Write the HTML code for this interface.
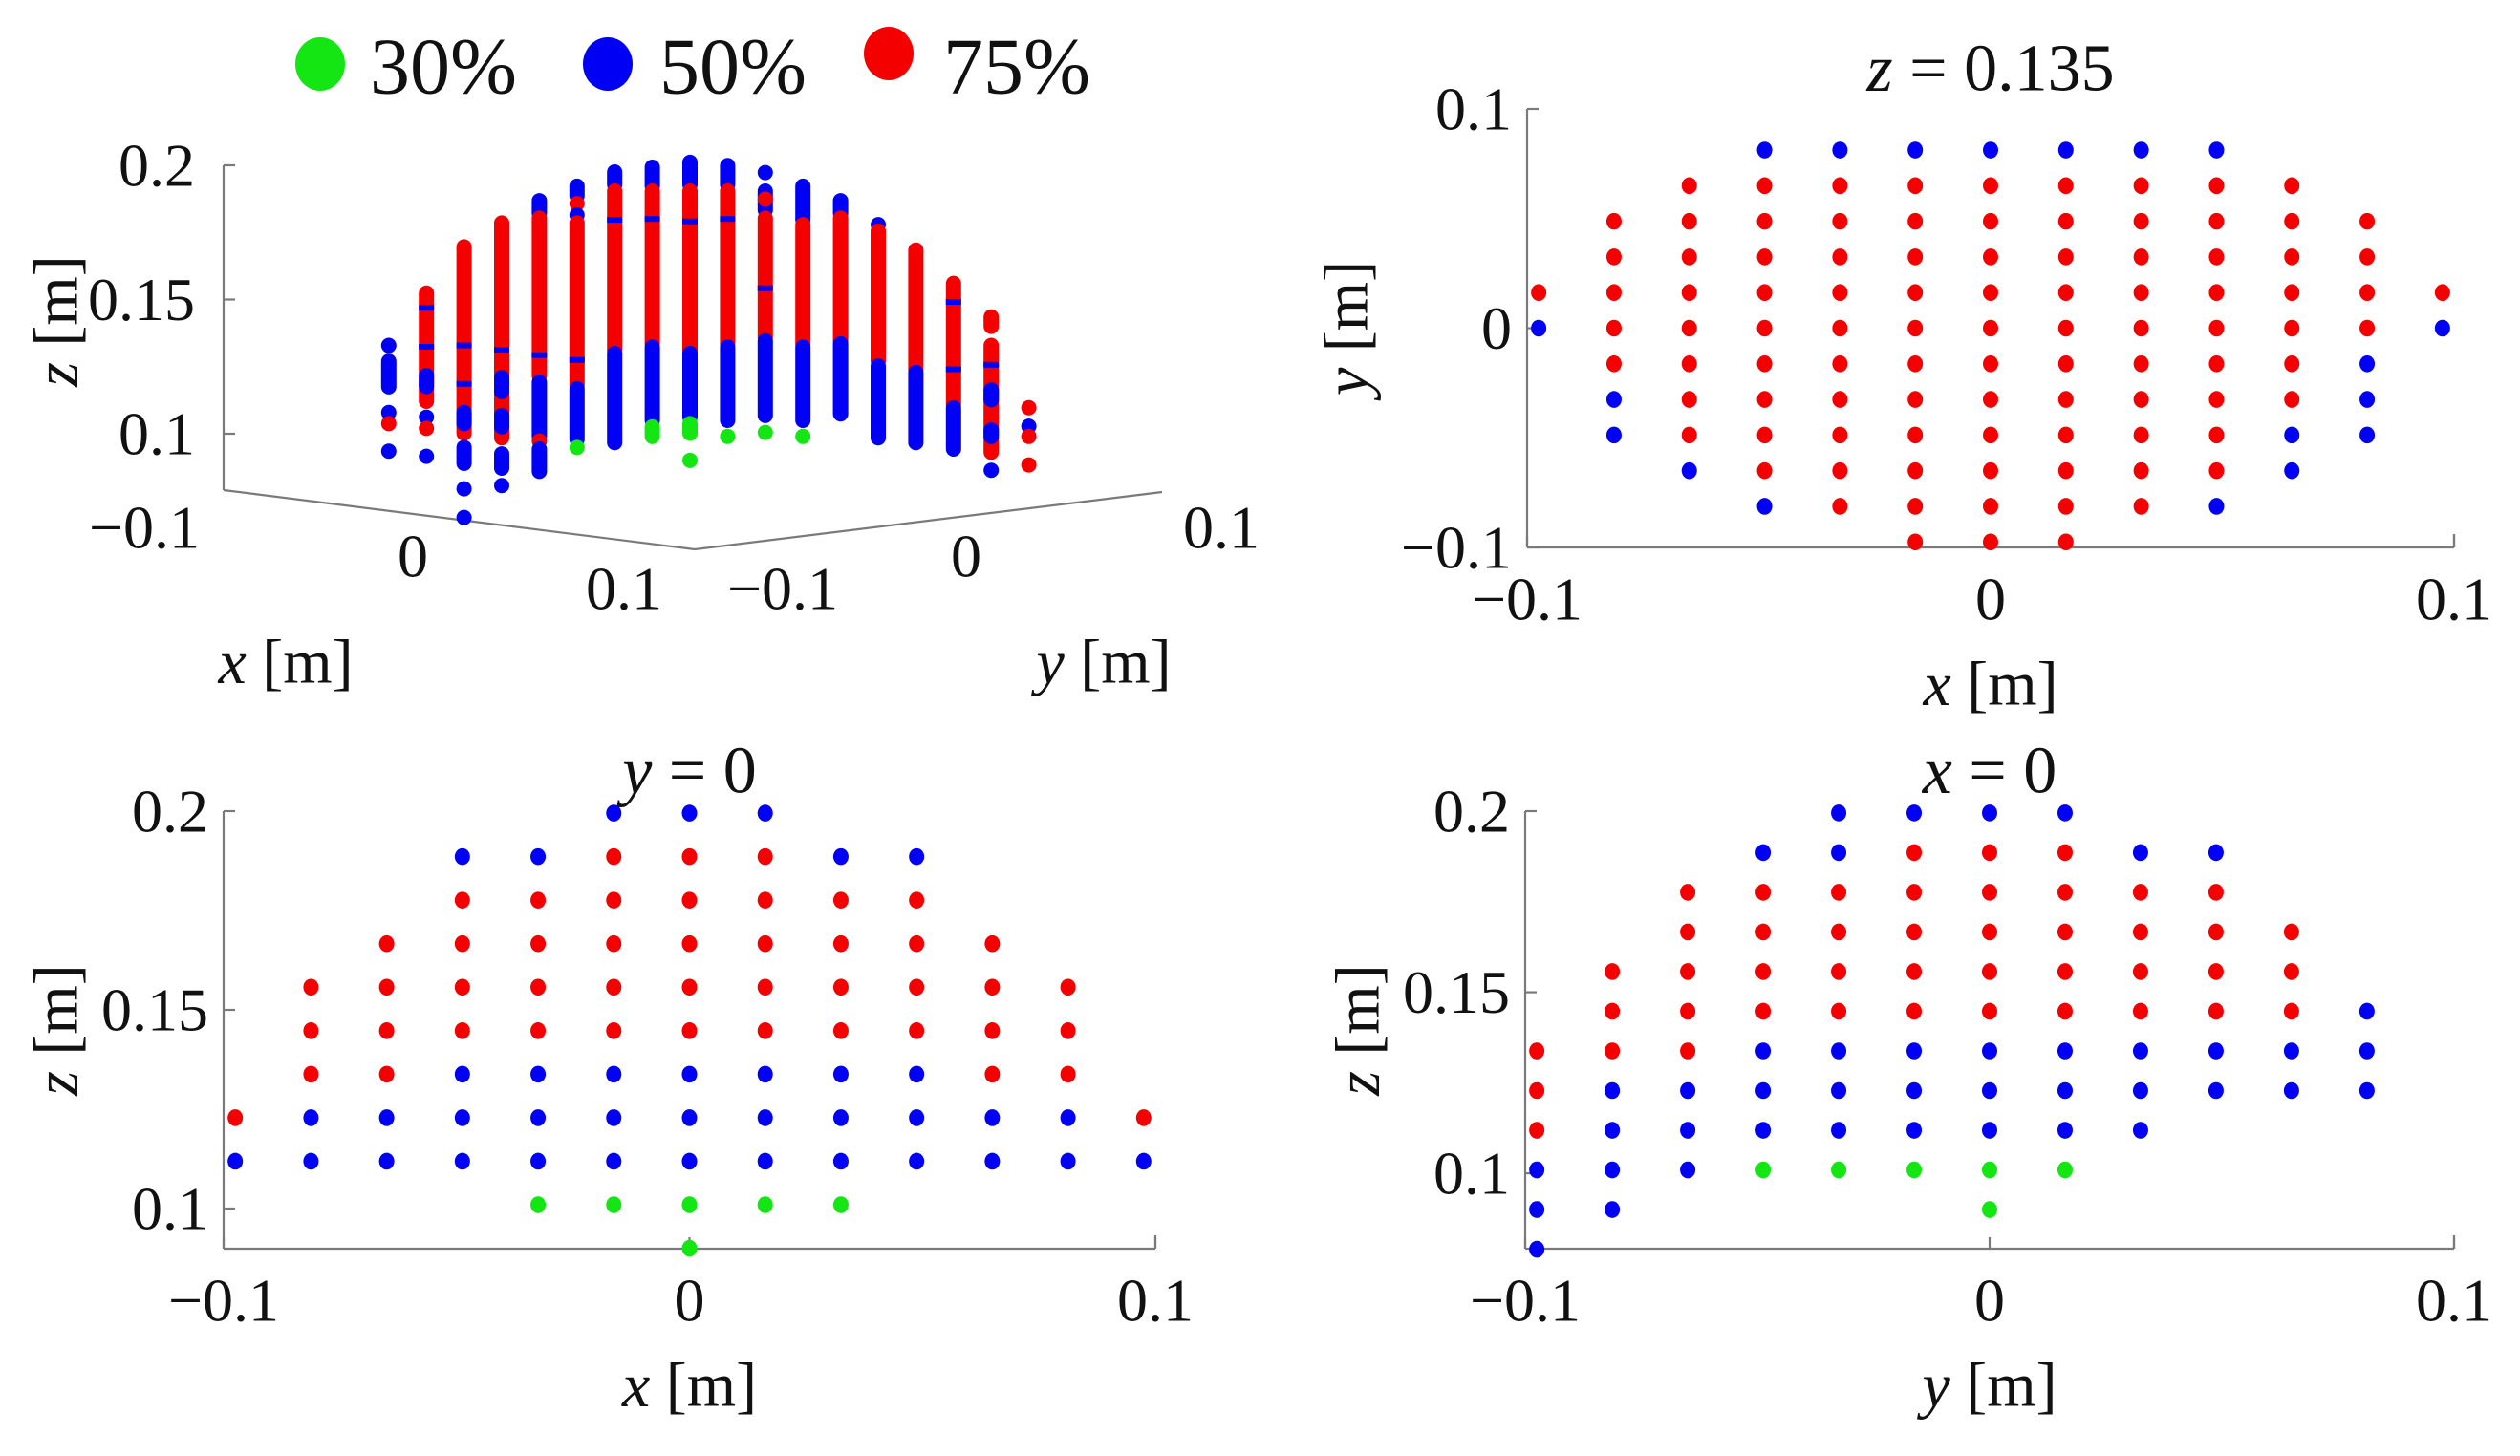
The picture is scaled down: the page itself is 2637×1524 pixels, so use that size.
<!DOCTYPE html>
<html><head><meta charset="utf-8">
<style>
html,body{margin:0;padding:0;background:#fff;}
svg{display:block;}
text{font-family:"Liberation Serif",serif !important;fill:#111;}
</style></head>
<body>
<svg id="fig" width="2637" height="1524" viewBox="0 0 2637 1524" xmlns="http://www.w3.org/2000/svg" font-family="Liberation Serif, serif">
</svg>
<script>
// ---------- data ----------
const gridIdx = [-6,-5,-4,-3,-2,-1,0,1,2,3,4,5,6];
const gridStep = 0.01625;
const zRowBase = 0.0900;
const zRowStep = 0.01095;
const sliceZRowsJ = [5,4,3,2,1,0,-1,-2,-3,-4,-5,-6];
const sliceZ = [
"...bbbbbbb...",
"..rrrrrrrrr..",
".rrrrrrrrrrr.",
".rrrrrrrrrrr.",
"rrrrrrrrrrrrr",
"brrrrrrrrrrrb",
".rrrrrrrrrrb.",
".brrrrrrrrrb.",
".brrrrrrrrbb.",
"..brrrrrrrb..",
"...brrrrrb...",
".....rrr....."];
const sliceYRowsK = [10,9,8,7,6,5,4,3,2,1,0];
const sliceY = [
".....bbb.....",
"...bbrrrbb...",
"...rrrrrrr...",
"..rrrrrrrrr..",
".rrrrrrrrrrr.",
".rrrrrrrrrrr.",
".rrbbbbbbbrr.",
"rbbbbbbbbbbbr",
"bbbbbbbbbbbbb",
"....ggggg....",
"......g......"];
const sliceXRowsK = [10,9,8,7,6,5,4,3,2,1,0,-1];
const sliceX = [
"....bbbb.....",
"...bbrrrbb...",
"..rrrrrrrr...",
"..rrrrrrrrr..",
".rrrrrrrrrr..",
".rrrrrrrrrrb.",
"rrrbbbbbbbbb.",
"rbbbbbbbbbbb.",
"rbbbbbbbb....",
"bbbggggg.....",
"bb....g......",
"b............"];
const cols3d = [-8,-7,-6,-5,-4,-3,-2,-1,0,1,2,3,4,5,6,7,8,9];
const runs3d = [
 [[0.1329,0.1329,'b'],[0.127,0.1175,'b'],[0.1079,0.1079,'b'],[0.1038,0.1038,'r'],[0.0935,0.0935,'b']],
 [[0.1524,0.1121,'r'],[0.1217,0.1176,'b'],[0.1062,0.1062,'b'],[0.1020,0.1020,'r'],[0.0916,0.0916,'b']],
 [[0.1696,0.1002,'r'],[0.1079,0.1038,'b'],[0.0949,0.0890,'b'],[0.0795,0.0795,'b'],[0.0688,0.0688,'b']],
 [[0.1785,0.0985,'r'],[0.121,0.1157,'b'],[0.1068,0.1026,'b'],[0.0925,0.0872,'b'],[0.0807,0.0807,'b']],
 [[0.1868,0.1821,'b'],[0.1803,0.1216,'r'],[0.1192,0.0990,'b'],[0.0973,0.0973,'r'],[0.0943,0.0860,'b']],
 [[0.1922,0.1886,'b'],[0.1857,0.1857,'r'],[0.1815,0.1815,'b'],[0.1785,0.118,'r'],[0.1168,0.0979,'b'],[0.0949,0.0949,'g']],
 [[0.1975,0.1928,'b'],[0.1904,0.1311,'r'],[0.1299,0.0967,'b']],
 [[0.1993,0.1922,'b'],[0.1904,0.1335,'r'],[0.1323,0.105,'b'],[0.1026,0.099,'g']],
 [[0.2011,0.1928,'b'],[0.1904,0.1311,'r'],[0.1299,0.1062,'b'],[0.1038,0.1002,'g'],[0.0901,0.0901,'g']],
 [[0.1999,0.1928,'b'],[0.1904,0.1335,'r'],[0.1323,0.105,'b'],[0.099,0.099,'g']],
 [[0.1973,0.1973,'b'],[0.1904,0.1833,'b'],[0.1874,0.1874,'r'],[0.1803,0.1358,'r'],[0.1346,0.1068,'b'],[0.1005,0.1005,'g']],
 [[0.1922,0.1797,'b'],[0.1779,0.1335,'r'],[0.1323,0.105,'b'],[0.099,0.099,'g']],
 [[0.1868,0.1821,'b'],[0.1803,0.1346,'r'],[0.1335,0.1074,'b']],
 [[0.1779,0.1779,'b'],[0.1755,0.127,'r'],[0.1252,0.0985,'b']],
 [[0.1684,0.124,'r'],[0.1228,0.0967,'b']],
 [[0.156,0.1109,'r'],[0.1097,0.0943,'b']],
 [[0.1435,0.14,'r'],[0.1329,0.0931,'r'],[0.1163,0.1127,'b'],[0.1014,0.099,'b'],[0.0864,0.0864,'b']],
 [[0.1097,0.1097,'r'],[0.1028,0.1028,'b'],[0.099,0.099,'r'],[0.0884,0.0884,'r']]
];
const bands3d = [
 [],
 [[0.1469,'b'],[0.1324,'b']],
 [[0.1329,'b'],[0.1186,'b']],
 [[0.1312,'b']],
 [[0.1293,'b']],
 [[0.1275,'b']],
 [[0.1797,'b']],
 [[0.18,'b']],
 [[0.1791,'b']],
 [[0.18,'b']],
 [[0.1542,'b']],
 [],[],[],[],
 [[0.1491,'b'],[0.124,'b']],
 [[0.1257,'b']],
 []
];
const legendLabels = ['30%','50%','75%'];
const tickLabels3dZ = ['0.2','0.15','0.1'];
const tickValues3dZ = [0.2,0.15,0.1];
const tickXY = [-0.1,0,0.1];
const tickXYLabels = ['\u22120.1','0','0.1'];

// ---------- drawing ----------
const NS='http://www.w3.org/2000/svg';
const svg=document.getElementById('fig');
const COL={g:'#14e614',b:'#0000f5',r:'#f50000'};
const R=8;
function el(tag,attrs,parent){const e=document.createElementNS(NS,tag);for(const k in attrs)e.setAttribute(k,attrs[k]);(parent||svg).appendChild(e);return e;}
function txt(x,y,s,size,anchor,parent,rot){const t=el('text',{x:x,y:y,'font-size':size,'font-family':'Liberation Serif, serif','text-anchor':anchor||'middle','dominant-baseline':'central'},parent);if(rot)t.setAttribute('transform','rotate(-90 '+x+' '+y+')');t.innerHTML=s;return t;}
function line(x1,y1,x2,y2,parent){return el('line',{x1:x1,y1:y1,x2:x2,y2:y2,stroke:'#7a7a7a','stroke-width':2.2},parent);}

const lg=el('g',{});


const legCx=[335,636,930], legCy=[67,67,56], legTx=[387,690,987], legC=['g','b','r'];
legendLabels.forEach((l,i)=>{
  const g=el('g',{},lg);
  
  
  el('ellipse',{cx:legCx[i],cy:legCy[i],rx:26,ry:28,fill:COL[legC[i]]},g);
  txt(legTx[i],70,l,84,'start',g);
});

function panel(name,L,Rr,T,B,xmin,xmax,ymin,ymax,yTicks,yTickLabels,title,xlabel,ylabel,ylabX,rows,rowVals){
  const g=el('g',{});
  
  
  const sx=v=>L+(v-xmin)/(xmax-xmin)*(Rr-L);
  const sy=v=>B-(v-ymin)/(ymax-ymin)*(B-T);
  const ax=el('g',{},g);
  
  
  line(L,T,L,B,ax); line(L,B,Rr,B,ax); line(Rr,B,Rr,B-14,ax);
  tickXY.forEach((v,i)=>{line(sx(v),B,sx(v),B-12,ax);txt(sx(v),B+54,tickXYLabels[i],64,'middle',ax);});
  yTicks.forEach((v,i)=>{line(L,sy(v),L+12,sy(v),ax);txt(L-16,sy(v),yTickLabels[i],64,'end',ax);});
  const tt=txt((L+Rr)/2,title.y,title.s,70,'middle',g);
  
  
  const xl=txt((L+Rr)/2,B+143,xlabel,66,'middle',g);
  
  
  const yl=txt(ylabX,(T+B)/2,ylabel,66,'middle',g,true);
  
  
  const pts=el('g',{},g);
  
  
  rows.forEach((row,ri)=>{
    for(let c=0;c<row.length;c++){
      const ch=row[c]; if(ch==='.')continue;
      const p=el('ellipse',{cx:sx(gridIdx[c]*gridStep),cy:sy(rowVals[ri]),rx:R,ry:R+0.8,fill:COL[ch]},pts);
      
      
    }
  });
}
panel('panel-z-0135',1598,2568,114,573,-0.1,0.1,-0.1,0.1,[0.1,0,-0.1],['0.1','0','\u22120.1'],
  {y:72,s:'<tspan font-style="italic">z</tspan> = 0.135'},'<tspan font-style="italic">x</tspan> [m]','<tspan font-style="italic">y</tspan> [m]',1409,
  sliceZ, sliceZRowsJ.map(j=>j*gridStep));
panel('panel-y-0',234,1209,849,1307,-0.1,0.1,0.0899,0.2,[0.2,0.15,0.1],['0.2','0.15','0.1'],
  {y:807,s:'<tspan font-style="italic">y</tspan> = 0'},'<tspan font-style="italic">x</tspan> [m]','<tspan font-style="italic">z</tspan> [m]',59,
  sliceY, sliceYRowsK.map(k=>zRowBase+k*zRowStep));
panel('panel-x-0',1596,2568,849,1307,-0.1,0.1,0.0792,0.2,[0.2,0.15,0.1],['0.2','0.15','0.1'],
  {y:807,s:'<tspan font-style="italic">x</tspan> = 0'},'<tspan font-style="italic">y</tspan> [m]','<tspan font-style="italic">z</tspan> [m]',1421,
  sliceX, sliceXRowsK.map(k=>zRowBase+k*zRowStep));

const g3=el('g',{});


const x3=s=>722+s*39.4;
const y3=z=>454-(z-0.1)*2810;
const a3=el('g',{},g3);


line(234,173,234,513,a3); line(234,513,727,575,a3); line(727,575,1216,515,a3);
tickValues3dZ.forEach((v,i)=>{line(234,y3(v),246,y3(v),a3);txt(204,y3(v),tickLabels3dZ[i],64,'end',a3);});
[[151,552],[432,582],[653,616]].forEach((p,i)=>txt(p[0],p[1],tickXYLabels[i],64,'middle',a3));
[[819,616],[1011,582],[1278,552]].forEach((p,i)=>txt(p[0],p[1],tickXYLabels[i],64,'middle',a3));
const zl=txt(59,336,'<tspan font-style="italic">z</tspan> [m]',66,'middle',g3,true);


const xl3=txt(299,693,'<tspan font-style="italic">x</tspan> [m]',66,'middle',g3);


const yl3=txt(1155,693,'<tspan font-style="italic">y</tspan> [m]',66,'middle',g3);


const p3=el('g',{},g3);


cols3d.forEach((s,ci)=>{
  const cx=x3(s);
  runs3d[ci].forEach(r=>{
    const yt=y3(r[0]), yb=y3(r[1]);
    const e=el('rect',{x:cx-R,y:yt-R,width:2*R,height:(yb-yt)+2*R,rx:R,fill:COL[r[2]]},p3);
    
    
  });
  bands3d[ci].forEach(b=>{
    const e=el('rect',{x:cx-R,y:y3(b[0])-3,width:2*R,height:6,fill:COL[b[1]]},p3);
    
    
  });
});
</script>
</body></html>
